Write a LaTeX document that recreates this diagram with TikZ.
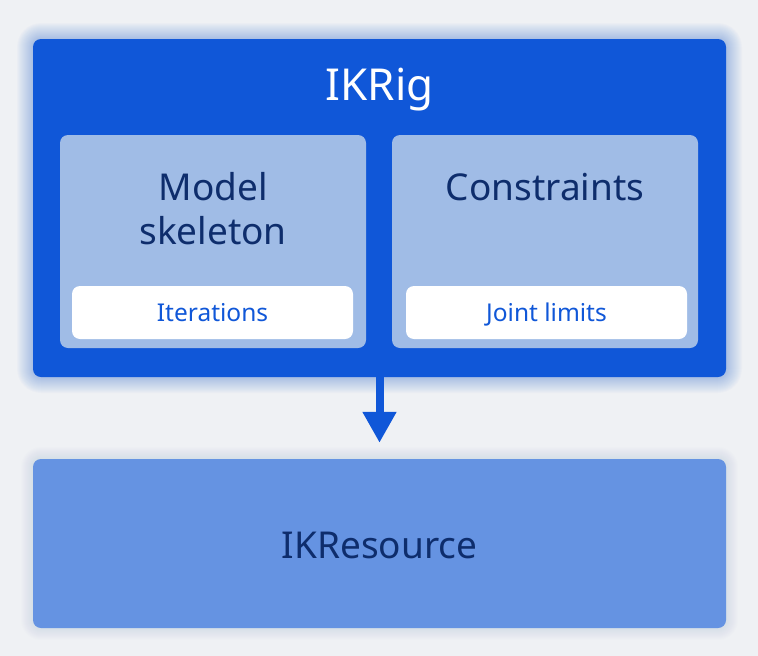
\documentclass[tikz,border=0pt]{standalone}
\usepackage{fontspec}
\setmainfont{Noto Sans}
\usetikzlibrary{positioning,arrows.meta,calc}

\definecolor{pagebg}{HTML}{EFF1F4}
\definecolor{rigblue}{HTML}{1057D8}
\definecolor{paneblue}{HTML}{A0BCE6}
\definecolor{resblue}{HTML}{6593E2}
\definecolor{navy}{HTML}{0E2D6C}

\begin{document}
\begin{tikzpicture}[
                x=1pt, y=-1pt,
                box/.style={
                    rounded corners=8pt,
                    inner sep=0pt,
                    align=center
                },
                rigbox/.style={box, fill=rigblue, minimum width=693pt, minimum height=338pt},
                pane/.style={box, fill=paneblue, minimum width=306pt, minimum height=213pt},
                pill/.style={box, fill=white, minimum width=281pt, minimum height=53pt,
                    text=rigblue, text height=20pt, text depth=2pt,
                    font=\fontsize{24.5}{28}\selectfont},
                resbox/.style={box, fill=resblue, minimum width=693pt, minimum height=169pt},
                heading/.style={text=navy, align=center, font=\fontsize{37}{44}\selectfont},
                arrow/.style={-{Triangle[length=31pt, width=32pt]}, line width=8pt, draw=rigblue}
            ]
                \fill[pagebg] (0,0) rectangle (758,656);
                \useasboundingbox (0,0) rectangle (758,656);

                % soft glow round the IKRig box
                \foreach \g in {16,15,...,1}
                    \fill[rigblue, opacity=0.018, rounded corners=8pt+\g pt]
                        (33-\g,39-\g) rectangle (726+\g,377+\g);
                \foreach \g in {12,11,...,1}
                    \fill[resblue, opacity=0.012, rounded corners=8pt+\g pt]
                        (33-\g,459-\g) rectangle (726+\g,628+\g);

                \node[rigbox] (rig) at (379.5,208) {};
                \node[text=white, font=\fontsize{44}{50}\selectfont] (rigtitle) at (379.5,90) {IKRig};

                \node[pane] (model) at (213,241.5) {};
                \node[pane] (cons) at (545,241.5) {};
                \node[heading] (modeltext) at (213,209) {Model\\skeleton};
                \node[heading] (constext) at (545,187) {Constraints};

                \node[pill] (iter) at (212.5,312.5) {Iterations};
                \node[pill] (joint) at (546.5,312.5) {Joint limits};

                \node[resbox] (res) at (379.5,543.5) {};
                \node[heading] (restext) at (379.5,545) {IKResource};

                \draw[arrow, shorten >=16pt] (rig.south) -- (res.north);
            \end{tikzpicture}
\end{document}
